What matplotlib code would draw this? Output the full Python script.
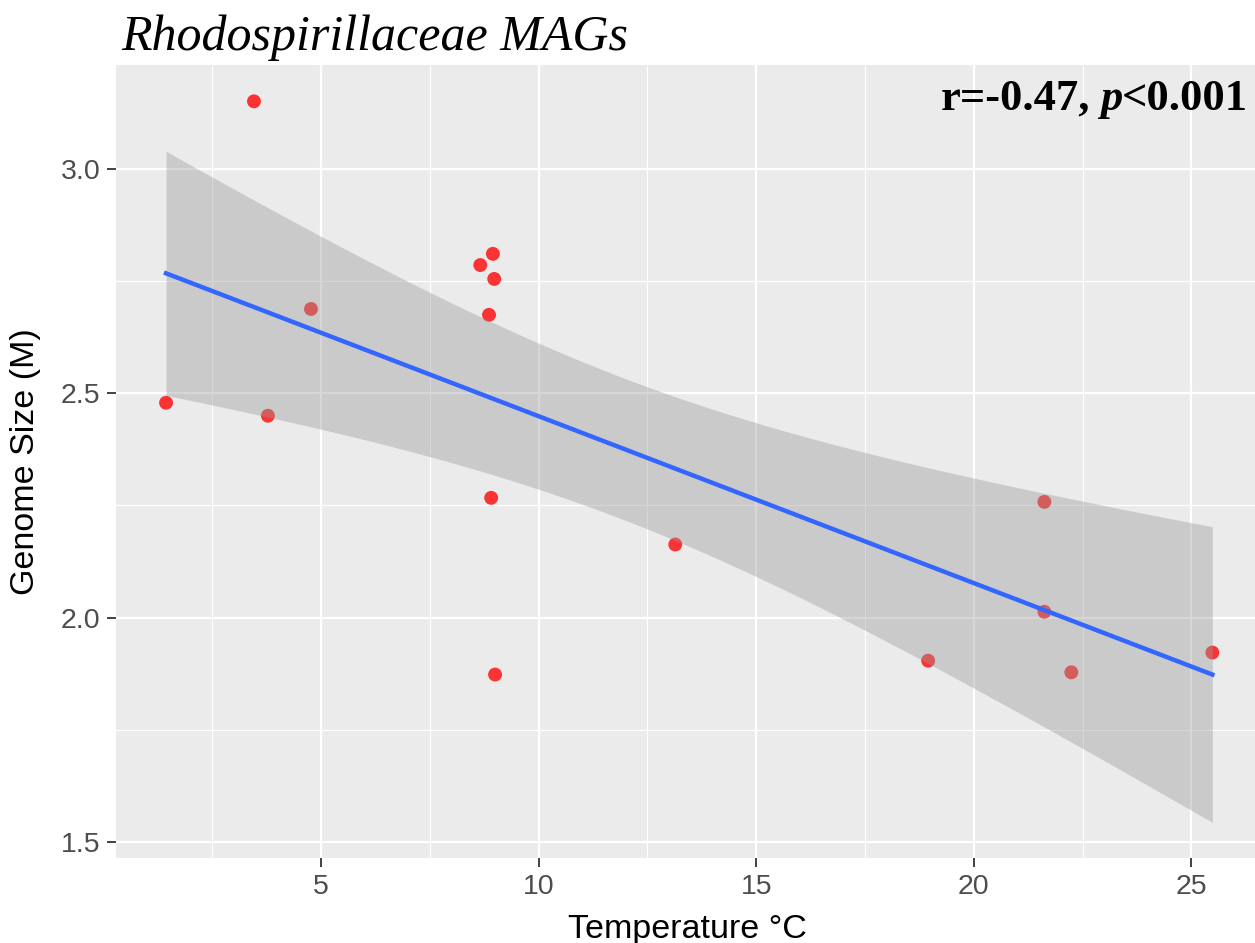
import numpy as np
import matplotlib
matplotlib.use("Agg")
import matplotlib.pyplot as plt
from matplotlib.ticker import MultipleLocator

# -------- data -------------------------------------------
temperature = [1.44, 3.46, 3.78, 4.77, 8.66, 8.95, 8.98, 8.86, 8.91, 9.00,
               13.14, 18.95, 21.62, 21.62, 22.24, 25.48]
genome_size = [2.479, 3.151, 2.450, 2.688, 2.786, 2.811, 2.755, 2.675, 2.267, 1.873,
               2.163, 1.904, 2.258, 2.013, 1.878, 1.922]
title = "Rhodospirillaceae MAGs"
x_label = "Temperature °C"
y_label = "Genome Size (M)"

x = np.array(temperature)
y = np.array(genome_size)

# -------- linear fit + 95% confidence band (like geom_smooth(method="lm")) ----
n = len(x)
slope, intercept = np.polyfit(x, y, 1)
resid = y - (slope * x + intercept)
s = np.sqrt(np.sum(resid**2) / (n - 2))
t_crit = 2.145  # t(0.975, df=14)
xs = np.linspace(x.min(), x.max(), 80)
ys = slope * xs + intercept
se = s * np.sqrt(1/n + (xs - x.mean())**2 / np.sum((x - x.mean())**2))

# -------- figure ------------------------------------------
fig = plt.figure(figsize=(12.55, 9.43), dpi=100)
ax = fig.add_axes([116/1255, 1 - 858/943, 1 - 116/1255, (858 - 65)/943])
ax.set_facecolor("#EBEBEB")
for sp in ax.spines.values():
    sp.set_visible(False)

ax.xaxis.set_major_locator(MultipleLocator(5))
ax.xaxis.set_minor_locator(MultipleLocator(2.5))
ax.yaxis.set_major_locator(MultipleLocator(0.5))
ax.yaxis.set_minor_locator(MultipleLocator(0.25))
ax.grid(which="major", color="white", linewidth=1.6)
ax.grid(which="minor", color="white", linewidth=0.8)
ax.set_axisbelow(True)

ax.scatter(x, y, s=100, color="red", alpha=0.78, edgecolors="none", zorder=2)
ax.fill_between(xs, ys - t_crit*se, ys + t_crit*se, color="#999999", alpha=0.4,
                linewidth=0, zorder=3)
ax.plot(xs, ys, color="#3366FF", linewidth=3.2, zorder=4)

ax.set_xlim(0.29, 26.46)
ax.set_ylim(1.464, 3.232)

ax.tick_params(which="major", length=6.2, width=1.3, color="#333333",
               labelsize=20.5, labelcolor="#4D4D4D", pad=5)
ax.tick_params(which="minor", length=0)
for lab in ax.get_xticklabels() + ax.get_yticklabels():
    lab.set_family("Liberation Sans")

fig.text(687/1255, 1 - 938/943, x_label, ha="center", va="baseline",
         fontsize=24.5, family="Liberation Sans")
fig.text(26/1255, 1 - 462/943, y_label, ha="center", va="center", rotation=90,
         fontsize=24.5, family="Liberation Sans")

fig.text(121/1255, 1 - 50/943, title, ha="left", va="baseline", fontsize=36,
         family="Liberation Serif", style="italic")

# annotation: r=-0.47, p<0.001 (p in italic)
t1 = fig.text(1248/1255, 1 - 110/943, "<0.001", ha="right", va="baseline",
              fontsize=32, family="Liberation Serif", weight="bold")
t2 = ax.annotate("p", xy=(0, 0), xycoords=t1, ha="right", va="bottom",
                 fontsize=32, family="Liberation Serif", weight="bold", style="italic")
t3 = ax.annotate("r=-0.47,", xy=(0, 0), xycoords=t2, xytext=(-7, 0),
                 textcoords="offset points", ha="right", va="bottom",
                 fontsize=32, family="Liberation Serif", weight="bold")

fig.savefig("out.png", dpi=100)
